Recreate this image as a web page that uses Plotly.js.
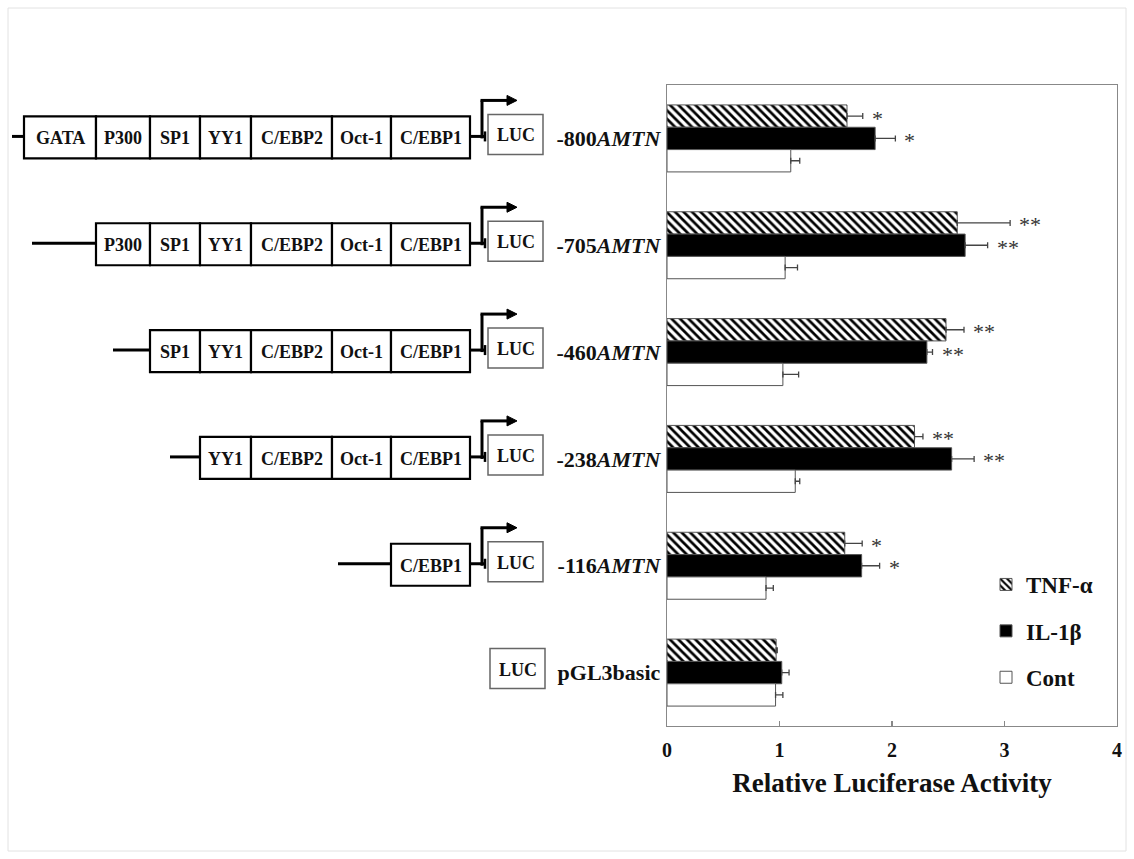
<!DOCTYPE html>
<html><head><meta charset="utf-8">
<script src="https://cdn.plot.ly/plotly-3.0.1.min.js"></script>
<style>html,body{margin:0;padding:0;background:#fff}#chart{width:1134px;height:859px}</style>
</head><body><div id="chart"></div>
<script>
// ---------- data ----------
const categories = ['-800AMTN', '-705AMTN', '-460AMTN', '-238AMTN', '-116AMTN', 'pGL3basic'];
const tickLabels = ['-800<i>AMTN</i>', '-705<i>AMTN</i>', '-460<i>AMTN</i>', '-238<i>AMTN</i>', '-116<i>AMTN</i>', 'pGL3basic'];
const seriesNames = ['TNF-α', 'IL-1β', 'Cont'];
const tnf    = [1.60, 2.58, 2.48, 2.20, 1.58, 0.97];
const tnfErr = [0.14, 0.47, 0.16, 0.075, 0.155, 0.01];
const il1    = [1.85, 2.65, 2.31, 2.53, 1.73, 1.02];
const il1Err = [0.18, 0.20, 0.05, 0.20, 0.16, 0.065];
const cont    = [1.10, 1.05, 1.03, 1.14, 0.88, 0.965];
const contErr = [0.08, 0.11, 0.14, 0.04, 0.065, 0.065];
const tnfSig = ['*', '**', '**', '**', '*', ''];
const il1Sig = ['*', '**', '**', '**', '*', ''];
const xTicks = [0, 1, 2, 3, 4];
const xTitle = 'Relative Luciferase Activity';
// promoter constructs (elements listed left to right, ending next to LUC)
const constructs = [
  ['GATA', 'P300', 'SP1', 'YY1', 'C/EBP2', 'Oct-1', 'C/EBP1'],
  ['P300', 'SP1', 'YY1', 'C/EBP2', 'Oct-1', 'C/EBP1'],
  ['SP1', 'YY1', 'C/EBP2', 'Oct-1', 'C/EBP1'],
  ['YY1', 'C/EBP2', 'Oct-1', 'C/EBP1'],
  ['C/EBP1'],
  []
];
const reporterLabel = 'LUC';

// ---------- style / geometry (pixels) ----------
const FONT = '"Liberation Serif", "Times New Roman", serif';
const bargap = 0.373;
const barW = (1 - bargap) / 3;
const elemWidth = {'GATA': 72, 'P300': 54, 'SP1': 50, 'YY1': 51, 'C/EBP2': 81, 'Oct-1': 59, 'C/EBP1': 79};
const stubLen = [12, 64, 37, 30, 53, 0];
const G = { boxRight: -197, boxTop: 22, boxBot: -20, lineY: 2, arrowX: -185, arrowY: 38,
            arrowEnd: -150, headLen: 10, headHalf: 5, lucX0: -179, lucX1: -124, lucTop: 24, lucBot: -16 };

function errBar(arr) {
  return {type: 'data', array: arr, arrayminus: arr.map(() => 0), symmetric: false,
          color: '#444', thickness: 1.3, width: 3};
}
const outline = {color: '#555', width: 1};
const traces = [
  {type: 'bar', orientation: 'h', name: seriesNames[0], y: categories, x: tnf, error_x: errBar(tnfErr),
   marker: {color: '#fff', line: outline, pattern: {shape: '\\', fgcolor: '#000', bgcolor: '#fff', size: 6, solidity: 0.45}},
   legendgroup: 'g1', hoverinfo: 'x'},
  {type: 'bar', orientation: 'h', name: seriesNames[1], y: categories, x: il1, error_x: errBar(il1Err),
   marker: {color: '#000', line: outline}, legendgroup: 'g2', hoverinfo: 'x'},
  {type: 'bar', orientation: 'h', name: seriesNames[2], y: categories, x: cont, error_x: errBar(contErr),
   marker: {color: '#fff', line: outline}, legendgroup: 'g3', hoverinfo: 'x'}
];

// ---------- diagram shapes ----------
const shapes = [];
const annotations = [];
function dshape(i, o) {
  return Object.assign({xref: 'paper', xsizemode: 'pixel', xanchor: 0,
                        yref: 'y', ysizemode: 'pixel', yanchor: i, layer: 'above'}, o);
}
function dtext(i, xpx, ypx, text, size) {
  annotations.push({xref: 'paper', x: 0, xshift: xpx, xanchor: 'center',
                    yref: 'y', y: i, yshift: ypx, yanchor: 'middle',
                    text: text, showarrow: false, font: {family: FONT, size: size, color: '#111', weight: 'bold'}});
}
constructs.forEach((els, i) => {
  const sh = (i === 5 ? 2 : 0);
  // LUC box
  shapes.push(dshape(i, {type: 'rect', x0: G.lucX0 + sh, x1: G.lucX1 + sh,
                         y0: G.lucBot, y1: G.lucTop, line: {color: '#666', width: 1.5}, fillcolor: '#fff'}));
  dtext(i, (G.lucX0 + G.lucX1) / 2 + sh, (G.lucTop + G.lucBot) / 2 - 1, reporterLabel, 18);
  if (!els.length) return;
  // element boxes, laid out right-to-left from the promoter end
  let right = G.boxRight;
  const pos = [];
  for (let k = els.length - 1; k >= 0; k--) {
    const w = elemWidth[els[k]];
    pos.unshift([right - w, right]);
    right -= w;
  }
  const left = right;
  // upstream stub line
  shapes.push(dshape(i, {type: 'line', x0: left - stubLen[i], x1: left, y0: G.lineY, y1: G.lineY,
                         line: {color: '#000', width: 3}}));
  els.forEach((e, k) => {
    shapes.push(dshape(i, {type: 'rect', x0: pos[k][0], x1: pos[k][1], y0: G.boxBot, y1: G.boxTop,
                           line: {color: '#000', width: 2.2}, fillcolor: '#fff'}));
    dtext(i, (pos[k][0] + pos[k][1]) / 2, 0, e, 18);
  });
  // connector to LUC and transcription-start arrow
  shapes.push(dshape(i, {type: 'line', x0: G.boxRight, x1: G.lucX0 - 2, y0: G.lineY, y1: G.lineY, line: {color: '#000', width: 3}}));
  shapes.push(dshape(i, {type: 'line', x0: G.lucX0 - 3, x1: G.lucX0 - 3, y0: G.lineY - 5, y1: G.lineY + 5, line: {color: '#000', width: 2.5}}));
  shapes.push(dshape(i, {type: 'line', x0: G.arrowX, x1: G.arrowX, y0: G.lineY - 2, y1: G.arrowY, line: {color: '#000', width: 3}}));
  shapes.push(dshape(i, {type: 'line', x0: G.arrowX - 1.5, x1: G.arrowEnd - G.headLen, y0: G.arrowY, y1: G.arrowY, line: {color: '#000', width: 3}}));
  shapes.push(dshape(i, {type: 'path',
    path: `M${G.arrowEnd - G.headLen},${G.arrowY + G.headHalf} L${G.arrowEnd},${G.arrowY} L${G.arrowEnd - G.headLen},${G.arrowY - G.headHalf} Z`,
    fillcolor: '#000', line: {color: '#000', width: 1}}));
});

// significance stars
function stars(vals, errs, sig, offset) {
  sig.forEach((s, i) => {
    if (!s) return;
    annotations.push({xref: 'x', yref: 'y', x: vals[i] + errs[i], y: i + offset, xanchor: 'left', yanchor: 'middle',
      xshift: 7, yshift: -2, text: s, showarrow: false, font: {family: FONT, size: 22, color: '#333'}});
  });
}
stars(tnf, tnfErr, tnfSig, -barW);
stars(il1, il1Err, il1Sig, 0);

// outer faint frame (figure border)
const PL = 667, PW = 450, PB = 726, PH = 641;
shapes.push({type: 'rect', xref: 'paper', yref: 'paper', layer: 'below',
  x0: (8 - PL) / PW, x1: (1126 - PL) / PW, y0: (PB - 851) / PH, y1: (PB - 8) / PH,
  line: {color: '#e2e2e2', width: 1}});

const layout = {
  width: 1134, height: 859,
  margin: {l: 667, r: 17, t: 85, b: 133, pad: 0},
  paper_bgcolor: '#fff', plot_bgcolor: '#fff',
  font: {family: FONT, color: '#111'},
  barmode: 'group', bargap: bargap, bargroupgap: 0,
  showlegend: true,
  legend: {x: (986 - PL) / PW, xanchor: 'left', y: (PB - 563) / PH, yanchor: 'top',
           traceorder: 'grouped', tracegroupgap: 13.5, bgcolor: 'rgba(0,0,0,0)',
           font: {family: FONT, size: 23, weight: 'bold', color: '#111'}},
  xaxis: {range: [0, 4], tickvals: xTicks, ticktext: xTicks.map(String), ticks: 'inside', ticklen: 5,
          tickcolor: '#888', tickwidth: 1.3, showline: true, mirror: true, linecolor: '#888', linewidth: 1.3,
          showgrid: false, zeroline: false, ticklabelstandoff: 6,
          tickfont: {family: FONT, size: 20, weight: 'bold', color: '#111'},
          title: {text: xTitle, font: {family: FONT, size: 27, weight: 'bold', color: '#111'}, standoff: 12}},
  yaxis: {type: 'category', categoryorder: 'array', categoryarray: categories, range: [5.5, -0.5], autorange: false,
          tickmode: 'array', tickvals: categories, ticktext: tickLabels, ticks: '', ticklabelstandoff: 1,
          showline: true, mirror: true, linecolor: '#888', linewidth: 1.3, showgrid: false, zeroline: false,
          tickfont: {family: FONT, size: 22, weight: 'bold', color: '#111'}},
  shapes: shapes,
  annotations: annotations
};
Plotly.newPlot('chart', traces, layout, {displayModeBar: false, staticPlot: true});
</script></body></html>
